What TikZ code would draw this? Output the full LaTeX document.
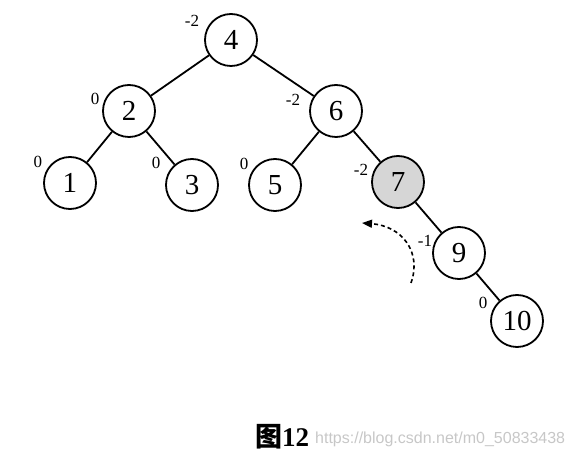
\documentclass[tikz,border=0pt]{standalone}
\usepackage{fontspec}
\setmainfont{Liberation Serif}
\newfontfamily\cjk{Noto Sans CJK SC}
\newfontfamily\wmfont{Liberation Sans}
\usetikzlibrary{arrows.meta}
\begin{document}
\begin{tikzpicture}[x=1pt,y=-1pt,
  tnode/.style={circle,draw,line width=1.8pt,minimum size=52pt,inner sep=0pt,font=\fontsize{29}{29}\selectfont,fill=white},
  bal/.style={font=\fontsize{17}{17}\selectfont,inner sep=0pt},
  edge/.style={line width=1.8pt}]
\useasboundingbox (0,0) rectangle (574,462);
\node[tnode] (n4) at (231,40) {4};
\node[tnode] (n2) at (129,111) {2};
\node[tnode] (n6) at (336,111) {6};
\node[tnode] (n1) at (70,183) {1};
\node[tnode] (n3) at (192,185) {3};
\node[tnode] (n5) at (275,185) {5};
\node[tnode,fill=black!16] (n7) at (398,182) {7};
\node[tnode] (n9) at (459,253) {9};
\node[tnode] (n10) at (517,321) {10};
\draw[edge] (n4) -- (n2);
\draw[edge] (n4) -- (n6);
\draw[edge] (n2) -- (n1);
\draw[edge] (n2) -- (n3);
\draw[edge] (n6) -- (n5);
\draw[edge] (n6) -- (n7);
\draw[edge] (n7) -- (n9);
\draw[edge] (n9) -- (n10);
\node[bal] (b4) at (192,21) {-2};
\node[bal] (b2) at (95,99) {0};
\node[bal] (b6) at (293,100) {-2};
\node[bal] (b1) at (38,162) {0};
\node[bal] (b3) at (156,163) {0};
\node[bal] (b5) at (244,164) {0};
\node[bal] (b7) at (361,170) {-2};
\node[bal] (b9) at (425,241) {-1};
\node[bal] (b10) at (483,303) {0};
\coordinate (as) at (411,283);
\coordinate (ae) at (362,223);
\draw[line width=1.6pt,dash pattern=on 4pt off 3pt,-{Triangle[length=10pt,width=8pt]}] (as) .. controls (422,252) and (402,226) .. (ae);
\node[font=\fontsize{27}{27}\selectfont\bfseries,inner sep=0pt] (cap) at (282,437) {{\cjk 图}12};
\node[font=\wmfont\fontsize{16}{16}\selectfont,text=black!22,inner sep=0pt,anchor=west] (wm) at (315,439) {https://blog.csdn.net/m0\_50833438};
\end{tikzpicture}
\end{document}
